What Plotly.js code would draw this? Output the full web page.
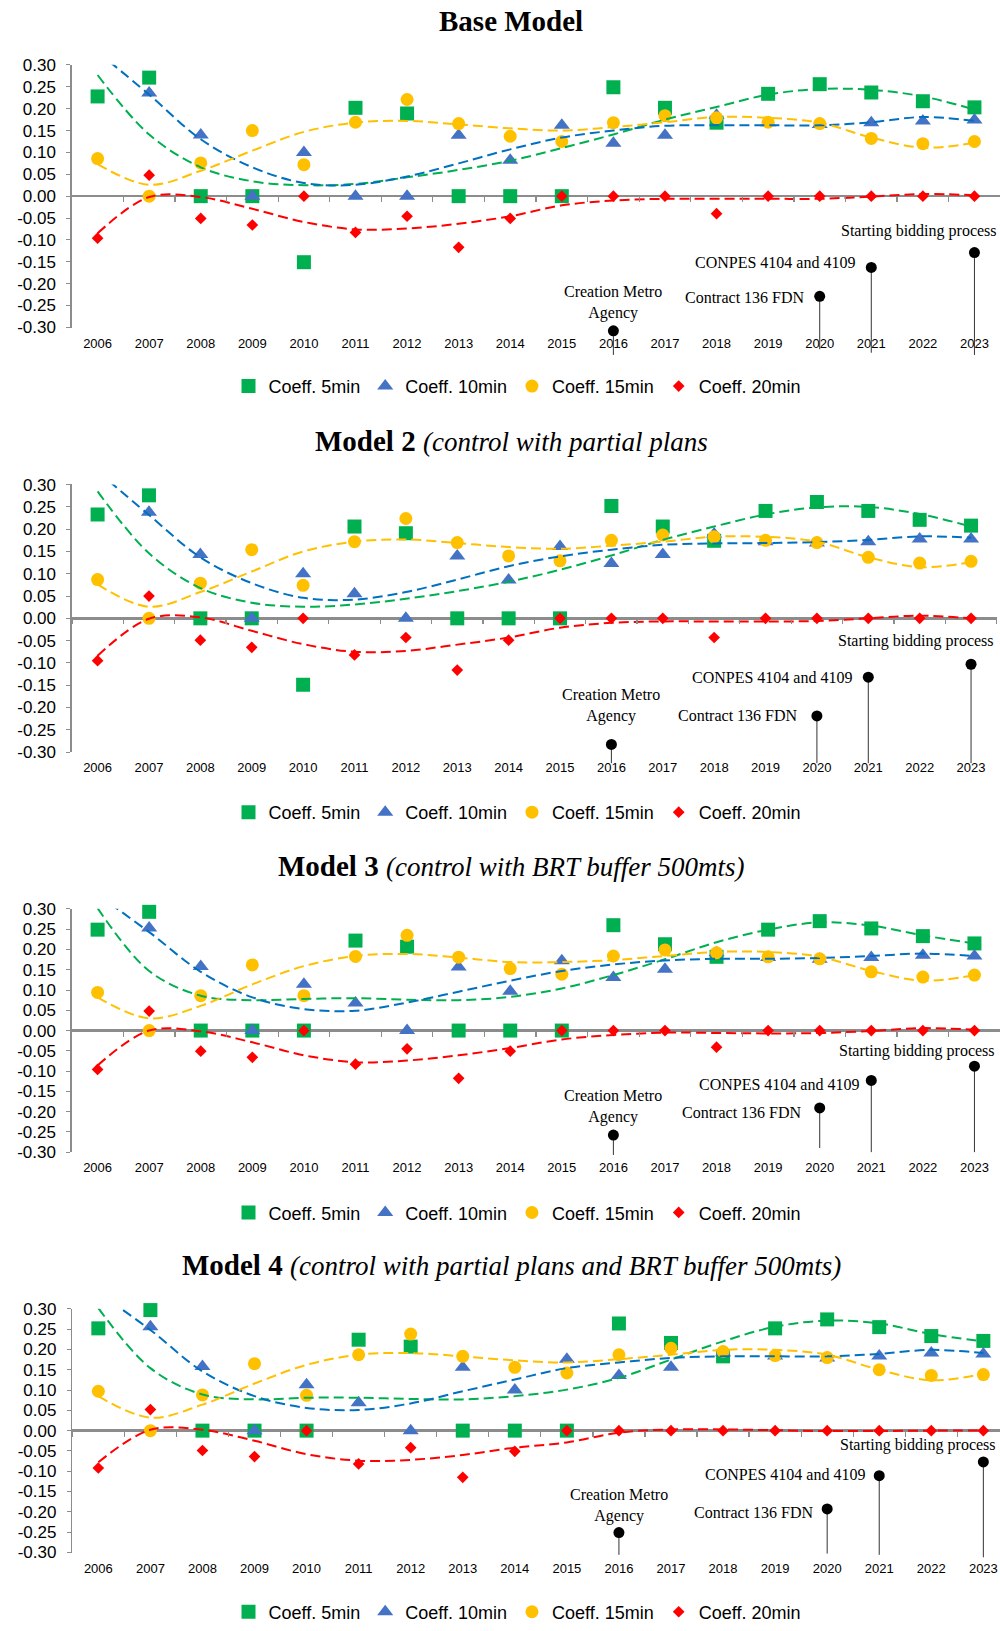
<!DOCTYPE html>
<html><head><meta charset="utf-8">
<script src="https://cdn.plot.ly/plotly-3.0.1.min.js"></script>
<style>html,body{margin:0;padding:0;background:#fff}#chart{width:1000px;height:1631px}</style>
</head><body><div id="chart"></div>
<script>
// ---------------- DATA ----------------
const years = ['2006','2007','2008','2009','2010','2011','2012','2013','2014','2015','2016','2017','2018','2019','2020','2021','2022','2023'];
const seriesNames = ['Coeff. 5min','Coeff. 10min','Coeff. 15min','Coeff. 20min'];
const yTicks = [0.30,0.25,0.20,0.15,0.10,0.05,0.00,-0.05,-0.10,-0.15,-0.20,-0.25,-0.30];

const titles = ['<b>Base Model</b>',
  '<b>Model 2</b> <i><span style="font-size:27px">(control with partial plans</span></i>',
  '<b>Model 3</b> <i><span style="font-size:27px">(control with BRT buffer 500mts)</span></i>',
  '<b>Model 4</b> <i><span style="font-size:27px">(control with partial plans and BRT buffer 500mts)</span></i>'];

// Base model
const c5_base  = [0.228,0.271,0,0,-0.151,0.202,0.189,0,0,0,0.249,0.202,0.168,0.234,0.256,0.237,0.217,0.203];
const c10_base = [null,0.236,0.140,0,0.100,0,0,0.139,0.082,0.162,0.121,0.139,0.185,0.168,0.164,0.168,0.172,0.174];
const c15_base = [0.086,0,0.076,0.150,0.072,0.169,0.221,0.166,0.137,0.125,0.168,0.184,0.179,0.169,0.166,0.132,0.120,0.125];
const c20_base = [-0.096,0.048,-0.051,-0.066,0,-0.083,-0.046,-0.117,-0.051,0,0,0,-0.040,0,0,0,0,0];
const t5_base  = [0.277,0.141,0.066,0.034,0.025,0.028,0.043,0.060,0.081,0.110,0.141,0.175,0.204,0.232,0.245,0.243,0.228,0.198];
const t10_base = [0.330,0.232,0.130,0.066,0.030,0.026,0.045,0.075,0.107,0.134,0.150,0.161,0.162,0.162,0.162,0.169,0.181,0.172];
const t15_base = [0.073,0.026,0.058,0.104,0.147,0.168,0.172,0.164,0.155,0.150,0.158,0.169,0.181,0.179,0.168,0.134,0.111,0.122];
const t20_base = [-0.085,-0.002,-0.002,-0.029,-0.059,-0.076,-0.074,-0.063,-0.046,-0.021,-0.010,-0.006,-0.006,-0.006,-0.006,-0.001,0.005,0.002];

// Model 2
const c5_m2  = [0.233,0.276,0,0,-0.149,0.206,0.191,0,0,0,0.252,0.206,0.174,0.241,0.261,0.241,0.221,0.208];
const c10_m2 = [null,0.238,0.143,0,0.100,0.055,0,0.140,0.086,0.161,0.123,0.143,0.189,0.172,0.169,0.172,0.178,0.178];
const c15_m2 = [0.087,0,0.079,0.154,0.074,0.172,0.224,0.170,0.140,0.129,0.175,0.187,0.183,0.175,0.170,0.137,0.124,0.128];
const c20_m2 = [-0.095,0.050,-0.049,-0.065,0,-0.082,-0.043,-0.116,-0.049,0,0,0,-0.043,0,0,0,0,0];
const t5_m2  = [0.285,0.146,0.068,0.035,0.026,0.031,0.044,0.061,0.082,0.109,0.141,0.176,0.206,0.233,0.249,0.250,0.234,0.206];
const t10_m2 = [0.330,0.232,0.137,0.079,0.046,0.042,0.059,0.087,0.117,0.139,0.154,0.165,0.168,0.169,0.171,0.176,0.184,0.181];
const t15_m2 = [0.076,0.026,0.059,0.105,0.150,0.172,0.177,0.169,0.160,0.156,0.163,0.172,0.183,0.183,0.172,0.137,0.115,0.126];
const t20_m2 = [-0.084,-0.001,0.002,-0.028,-0.058,-0.075,-0.073,-0.059,-0.043,-0.021,-0.010,-0.007,-0.007,-0.007,-0.006,0,0.006,0];

// Model 3
const c5_m3  = [0.249,0.293,0,0,0,0.222,0.207,0,0,0,0.260,0.213,0.182,0.249,0.270,0.252,0.233,0.215];
const c10_m3 = [null,0.253,0.158,0,0.114,0.068,0,0.157,0.097,0.172,0.131,0.151,0.192,0.180,0.176,0.180,0.186,0.184];
const c15_m3 = [0.094,0,0.086,0.162,0.086,0.183,0.235,0.181,0.153,0.139,0.184,0.199,0.192,0.182,0.177,0.145,0.132,0.137];
const c20_m3 = [-0.096,0.048,-0.051,-0.066,0,-0.083,-0.045,-0.118,-0.051,0,0,0,-0.041,0,0,0,0,0];
const t5_m3  = [0.302,0.147,0.086,0.075,0.078,0.080,0.076,0.075,0.083,0.104,0.137,0.176,0.218,0.249,0.267,0.259,0.235,0.215];
const t10_m3 = [0.335,0.243,0.145,0.082,0.053,0.049,0.069,0.096,0.123,0.147,0.163,0.173,0.177,0.177,0.179,0.184,0.190,0.184];
const t15_m3 = [0.082,0.030,0.061,0.114,0.159,0.184,0.189,0.180,0.169,0.169,0.174,0.184,0.194,0.194,0.182,0.147,0.123,0.137];
const t20_m3 = [-0.086,0,-0.002,-0.029,-0.061,-0.078,-0.074,-0.061,-0.043,-0.022,-0.011,-0.005,-0.006,-0.007,-0.006,-0.001,0.006,0.002];

// Model 4
const c5_m4  = [0.252,0.297,0,0,0,0.224,0.207,0,0,0,0.264,0.216,0.183,0.252,0.274,0.255,0.233,0.221];
const c10_m4 = [null,0.256,0.158,0,0.113,0.069,0,0.156,0.100,0.176,0.136,0.156,0.192,0.184,0.179,0.184,0.191,0.189];
const c15_m4 = [0.097,0,0.088,0.165,0.087,0.187,0.238,0.183,0.156,0.142,0.187,0.203,0.195,0.185,0.180,0.150,0.136,0.138];
const c20_m4 = [-0.092,0.052,-0.049,-0.064,0,-0.082,-0.042,-0.115,-0.051,0,0,0,0,0,0,0,0,0];
const t5_m4  = [0.302,0.154,0.089,0.077,0.081,0.081,0.078,0.077,0.085,0.101,0.130,0.175,0.220,0.256,0.271,0.264,0.238,0.220];
const t10_m4 = [0.340,0.248,0.146,0.085,0.056,0.051,0.067,0.097,0.126,0.154,0.168,0.179,0.183,0.183,0.183,0.189,0.199,0.191];
const t15_m4 = [0.085,0.032,0.064,0.116,0.162,0.187,0.191,0.183,0.173,0.168,0.176,0.187,0.199,0.199,0.187,0.150,0.124,0.140];
const t20_m4 = [-0.078,0.002,0.002,-0.025,-0.058,-0.074,-0.072,-0.060,-0.042,-0.029,-0.005,0.003,0.003,0.001,-0.001,-0.001,0,0];

// Event markers (milestones)
const eventYears  = ['2016','2020','2021','2023'];
const eventLabels = ['Creation Metro<br>Agency','Contract 136 FDN','CONPES 4104 and 4109','Starting bidding process'];
const ev_base = [-0.308,-0.229,-0.163,-0.129], evEnd_base = [-0.363,-0.350,-0.358,-0.363];
const ev_m2   = [-0.283,-0.219,-0.132,-0.103], evEnd_m2   = [-0.325,-0.325,-0.325,-0.325];
const ev_m3   = [-0.258,-0.191,-0.123,-0.088], evEnd_m3   = [-0.307,-0.290,-0.300,-0.300];
const ev_m4   = [-0.251,-0.193,-0.111,-0.077], evEnd_m4   = [-0.306,-0.303,-0.306,-0.312];

// ---------------- LAYOUT / STYLE ----------------
const W = 1000, H = 1631;
const colors = ['#00B050','#4472C4','#FFC000','#FF0000'];
const trendColors = ['#00B050','#0070C0','#FFC000','#FF0000'];
const symbols = ['square','triangle-up','circle','diamond'];
const sizes = [14,14,13,9];
const SANS = 'Liberation Sans, Arial, sans-serif';
const SERIF = 'Liberation Serif, Times New Roman, serif';
const GRAY = '#8c8c8c';
const YR = 0.3005;
const EXT = 36; // extra px below plot for the milestone stems

const panels = [
  {c:[c5_base,c10_base,c15_base,c20_base], t:[t5_base,t10_base,t15_base,t20_base], ev:ev_base, evEnd:evEnd_base,
   top:65, bottom:329, left:71.8, spacing:51.58, titleY:21, legendY:388,
   off:[{ys:28},{xs:-13,ys:-1},{xs:-14,ys:5},{xs:-55,ys:22}]},
  {c:[c5_m2,c10_m2,c15_m2,c20_m2], t:[t5_m2,t10_m2,t15_m2,t20_m2], ev:ev_m2, evEnd:evEnd_m2,
   top:486.5, bottom:755.5, left:71.9, spacing:51.38, titleY:443, legendY:816,
   off:[{ys:39},{xs:-17,ys:0},{xs:-14,ys:0},{xs:-55,ys:23}]},
  {c:[c5_m3,c10_m3,c15_m3,c20_m3], t:[t5_m3,t10_m3,t15_m3,t20_m3], ev:ev_m3, evEnd:evEnd_m3,
   top:912.7, bottom:1157.3, left:71.8, spacing:51.58, titleY:870, legendY:1218,
   off:[{ys:29},{xs:-16,ys:-5},{xs:-10,ys:-4},{xs:-57,ys:15}]},
  {c:[c5_m4,c10_m4,c15_m4,c20_m4], t:[t5_m4,t10_m4,t15_m4,t20_m4], ev:ev_m4, evEnd:evEnd_m4,
   top:1314.3, bottom:1559.3, left:72.3, spacing:52.06, titleY:1270, legendY:1619,
   off:[{ys:27},{xs:-11,ys:-4},{xs:-12,ys:1},{xs:-65,ys:17}]}
];

const traces = [];
const annotations = [];
const layout = {
  width: W, height: H, margin:{l:0,r:0,t:0,b:0}, paper_bgcolor:'#fff', plot_bgcolor:'rgba(0,0,0,0)',
  showlegend: true, font:{family:SANS, color:'#000'}, hovermode:false
};

panels.forEach((p, i) => {
  const s = i === 0 ? '' : String(i + 1);
  const se = String(i + 5);
  const xa = 'x' + s, ya = 'y' + s, xe = 'x' + se, ye = 'y' + se;
  const right = Math.min(p.left + p.spacing * years.length, W);
  const xRange = [-0.5, -0.5 + (right - p.left) / p.spacing];
  const yDom = [1 - p.bottom / H, 1 - p.top / H];
  const xDom = [p.left / W, right / W];
  const ppu = (p.bottom - p.top) / (2 * YR);

  // main data axes
  layout['xaxis' + s] = {
    type:'category', domain:xDom, range:xRange, anchor:ya,
    showline:false, ticks:'', showgrid:false, zeroline:false, ticklabelstandoff:6,
    tickfont:{family:SANS, size:13, color:'#000'}, fixedrange:true
  };
  layout['yaxis' + s] = {
    domain:yDom, range:[-YR, YR], anchor:xa,
    tickmode:'array', tickvals:yTicks, ticktext:yTicks.map(v => v.toFixed(2)),
    ticks:'outside', ticklen:4, tickcolor:GRAY, showline:true, linecolor:GRAY, linewidth:1.5,
    showgrid:false, zeroline:true, zerolinecolor:GRAY, zerolinewidth:2.5, ticklabelstandoff:7,
    tickfont:{family:SANS, size:17, color:'#000'}, fixedrange:true
  };
  // milestone axes: x sits on the zero line (gives the boundary ticks), y extends below the plot
  layout['xaxis' + se] = {
    type:'category', categoryorder:'array', categoryarray:years, domain:xDom, range:xRange,
    anchor:'free', position:(yDom[0] + yDom[1]) / 2, side:'bottom',
    showline:false, ticks:'outside', tickson:'boundaries', ticklen:5, tickcolor:GRAY, tickwidth:1.2,
    showticklabels:false, showgrid:false, zeroline:false, fixedrange:true
  };
  layout['yaxis' + se] = {
    domain:[1 - (p.bottom + EXT) / H, 1 - p.top / H], range:[-YR - EXT / ppu, YR],
    anchor:'free', position:xDom[0], visible:false, showgrid:false, zeroline:false, fixedrange:true
  };
  layout['legend' + s] = {
    orientation:'h', x:517 / W, xanchor:'center', y:1 - p.legendY / H, yanchor:'middle',
    font:{family:SANS, size:18, color:'#000'}, itemwidth:30, bgcolor:'rgba(0,0,0,0)',
    traceorder:'normal', itemclick:false, itemdoubleclick:false
  };

  // marker series
  for (let k = 0; k < 4; k++) {
    traces.push({
      type:'scatter', mode:'markers', x:years, y:p.c[k], xaxis:xa, yaxis:ya,
      name:seriesNames[k], legend:'legend' + s, cliponaxis:false,
      marker:{symbol:symbols[k], size:sizes[k], color:colors[k], line:{width:0}}
    });
  }
  // polynomial trend lines
  for (let k = 0; k < 4; k++) {
    traces.push({
      type:'scatter', mode:'lines', x:years, y:p.t[k], xaxis:xa, yaxis:ya,
      showlegend:false, hoverinfo:'skip',
      line:{shape:'spline', smoothing:1, width:2, color:trendColors[k], dash:'10px,5px'}
    });
  }
  // milestone lollipops
  traces.push({
    type:'scatter', mode:'markers', x:eventYears, y:p.ev, xaxis:xe, yaxis:ye,
    showlegend:false, cliponaxis:false, hoverinfo:'skip',
    marker:{symbol:'circle', size:11, color:'#000'},
    error_y:{type:'data', symmetric:false, array:p.ev.map(() => 0),
             arrayminus:p.ev.map((v, k) => v - p.evEnd[k]), width:0, thickness:1, color:'#333'}
  });
  eventLabels.forEach((lab, k) => {
    const o = p.off[k];
    const a = {
      xref:xa, yref:ye, x:years.indexOf(eventYears[k]), y:p.ev[k], text:lab, showarrow:false,
      font:{family:SERIF, size:16, color:'#000'}, yanchor:'middle', yshift:o.ys || 0, xshift:o.xs || 0
    };
    a.xanchor = (k === 1 || k === 2) ? 'right' : 'center';
    annotations.push(a);
  });
  // panel title
  annotations.push({
    xref:'paper', yref:'paper', x:511 / W, y:1 - p.titleY / H, xanchor:'center', yanchor:'middle',
    text:titles[i], showarrow:false, font:{family:SERIF, size:29, color:'#000'}
  });
});
layout.annotations = annotations;

Plotly.newPlot('chart', traces, layout, {staticPlot:true, displayModeBar:false});
</script>
</body></html>
